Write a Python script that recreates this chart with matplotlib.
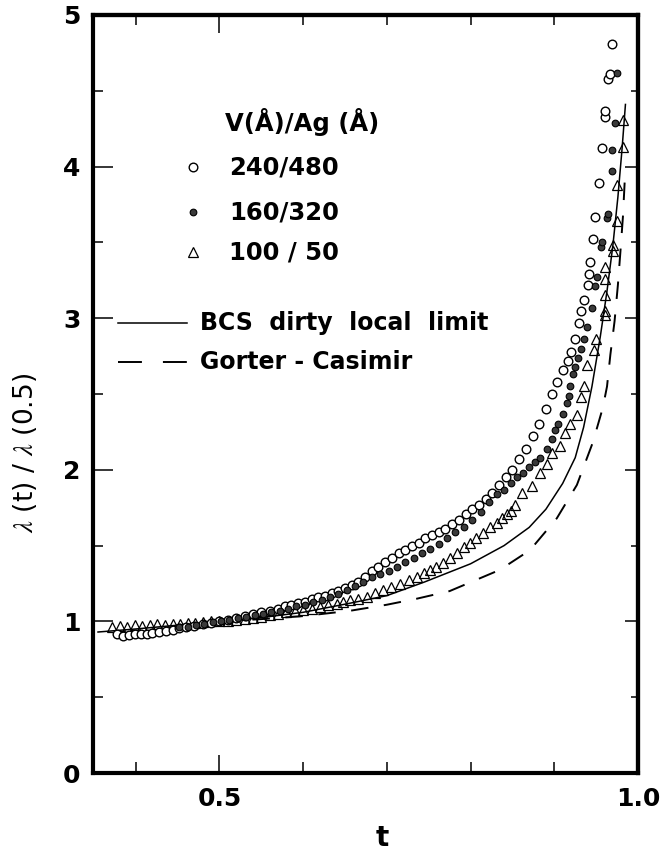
import matplotlib
matplotlib.use("Agg")
import matplotlib.pyplot as plt
from matplotlib.ticker import FixedLocator, NullFormatter

plt.rcParams['font.family'] = ['DejaVu Sans']
plt.rcParams['mathtext.fontset'] = 'stix'

# --- measured data: reduced penetration depth lambda(t)/lambda(0.5) ---
t_240 = [0.378, 0.385, 0.392, 0.399, 0.406, 0.413, 0.420, 0.428, 0.436, 0.444,
         0.452, 0.460, 0.470, 0.480, 0.490, 0.500, 0.510, 0.520, 0.530, 0.540,
         0.550, 0.560, 0.570, 0.578, 0.586, 0.594, 0.602, 0.610, 0.618, 0.626,
         0.634, 0.642, 0.650, 0.658, 0.666, 0.674, 0.682, 0.690, 0.698, 0.706,
         0.714, 0.722, 0.730, 0.738, 0.746, 0.754, 0.762, 0.770, 0.778, 0.786,
         0.794, 0.802, 0.810, 0.818, 0.826, 0.834, 0.842, 0.850, 0.858, 0.866,
         0.874, 0.882, 0.890, 0.897, 0.903, 0.910, 0.916, 0.920, 0.925, 0.930,
         0.932, 0.935, 0.940, 0.941, 0.943, 0.946, 0.949, 0.953, 0.957, 0.960,
         0.961, 0.964, 0.966, 0.969]
v_240 = [0.915, 0.905, 0.910, 0.915, 0.915, 0.920, 0.925, 0.930, 0.935, 0.945,
         0.955, 0.960, 0.970, 0.980, 0.990, 1.000, 1.010, 1.025, 1.035, 1.050,
         1.060, 1.070, 1.085, 1.100, 1.110, 1.120, 1.130, 1.145, 1.160, 1.170,
         1.185, 1.200, 1.220, 1.240, 1.260, 1.290, 1.330, 1.360, 1.390, 1.420,
         1.450, 1.470, 1.500, 1.520, 1.550, 1.570, 1.590, 1.610, 1.640, 1.670,
         1.710, 1.740, 1.770, 1.810, 1.850, 1.900, 1.950, 2.000, 2.070, 2.140,
         2.220, 2.300, 2.400, 2.500, 2.580, 2.660, 2.720, 2.780, 2.860, 2.970,
         3.050, 3.120, 3.220, 3.290, 3.370, 3.520, 3.670, 3.890, 4.120, 4.330,
         4.370, 4.580, 4.610, 4.810]

t_160 = [0.452, 0.462, 0.472, 0.482, 0.492, 0.502, 0.512, 0.522, 0.532, 0.542,
         0.552, 0.562, 0.572, 0.582, 0.592, 0.602, 0.612, 0.622, 0.632, 0.642,
         0.652, 0.662, 0.672, 0.682, 0.692, 0.702, 0.712, 0.722, 0.732, 0.742,
         0.752, 0.762, 0.772, 0.782, 0.792, 0.802, 0.812, 0.822, 0.832, 0.840,
         0.848, 0.856, 0.863, 0.870, 0.877, 0.883, 0.891, 0.897, 0.901, 0.905,
         0.910, 0.915, 0.918, 0.919, 0.922, 0.925, 0.928, 0.932, 0.935, 0.939,
         0.945, 0.949, 0.951, 0.956, 0.957, 0.963, 0.964, 0.969, 0.969, 0.972,
         0.975]
v_160 = [0.960, 0.965, 0.975, 0.985, 0.995, 1.000, 1.010, 1.020, 1.030, 1.040,
         1.050, 1.060, 1.070, 1.085, 1.100, 1.110, 1.125, 1.140, 1.160, 1.180,
         1.210, 1.235, 1.260, 1.290, 1.310, 1.335, 1.360, 1.390, 1.420, 1.450,
         1.480, 1.510, 1.550, 1.590, 1.620, 1.670, 1.720, 1.790, 1.840, 1.870,
         1.910, 1.950, 1.980, 2.020, 2.050, 2.080, 2.140, 2.200, 2.260, 2.300,
         2.370, 2.440, 2.490, 2.550, 2.630, 2.680, 2.740, 2.800, 2.860, 2.940,
         3.070, 3.210, 3.270, 3.470, 3.500, 3.660, 3.690, 3.970, 4.110, 4.290,
         4.620]

t_100 = [0.372, 0.381, 0.390, 0.399, 0.408, 0.417, 0.426, 0.435, 0.444, 0.453,
         0.462, 0.471, 0.480, 0.490, 0.500, 0.510, 0.520, 0.530, 0.540, 0.550,
         0.560, 0.570, 0.580, 0.590, 0.600, 0.610, 0.620, 0.630, 0.640, 0.648,
         0.656, 0.666, 0.676, 0.686, 0.695, 0.705, 0.716, 0.726, 0.736, 0.744,
         0.751, 0.759, 0.767, 0.775, 0.784, 0.792, 0.799, 0.807, 0.815, 0.823,
         0.831, 0.837, 0.843, 0.848, 0.853, 0.862, 0.873, 0.883, 0.891, 0.897,
         0.907, 0.913, 0.919, 0.927, 0.932, 0.935, 0.939, 0.947, 0.950, 0.961,
         0.961, 0.961, 0.961, 0.961, 0.970, 0.970, 0.975, 0.975, 0.982, 0.982]
v_100 = [0.960, 0.970, 0.965, 0.975, 0.970, 0.975, 0.980, 0.975, 0.985, 0.980,
         0.990, 0.990, 0.995, 1.000, 1.000, 1.005, 1.010, 1.015, 1.020, 1.030,
         1.040, 1.050, 1.060, 1.070, 1.075, 1.085, 1.095, 1.105, 1.115, 1.130,
         1.140, 1.150, 1.160, 1.190, 1.210, 1.230, 1.250, 1.270, 1.290, 1.320,
         1.340, 1.360, 1.385, 1.420, 1.450, 1.490, 1.520, 1.550, 1.580, 1.620,
         1.650, 1.680, 1.710, 1.730, 1.770, 1.850, 1.890, 1.980, 2.040, 2.110,
         2.160, 2.240, 2.300, 2.360, 2.480, 2.550, 2.690, 2.790, 2.860, 3.020,
         3.050, 3.150, 3.260, 3.340, 3.440, 3.480, 3.640, 3.880, 4.130, 4.310]

# --- theory curves ---
t_bcs = [0.355, 0.400, 0.450, 0.500, 0.550, 0.600, 0.656, 0.700, 0.745, 0.800,
         0.840, 0.870, 0.890, 0.910, 0.925, 0.935, 0.945, 0.955, 0.963, 0.970,
         0.976, 0.981, 0.985]
v_bcs = [0.930, 0.950, 0.975, 1.000, 1.025, 1.060, 1.120, 1.170, 1.260, 1.380,
         1.500, 1.620, 1.740, 1.910, 2.080, 2.280, 2.550, 2.880, 3.180, 3.480,
         3.800, 4.120, 4.410]

t_gc = [0.500, 0.550, 0.600, 0.656, 0.700, 0.736, 0.775, 0.835, 0.871, 0.903,
        0.927, 0.946, 0.958, 0.963, 0.967, 0.972, 0.976, 0.979, 0.982, 0.984,
        0.985]
v_gc = [1.000, 1.015, 1.035, 1.070, 1.110, 1.150, 1.200, 1.340, 1.470, 1.680,
        1.900, 2.180, 2.410, 2.550, 2.760, 2.980, 3.220, 3.440, 3.670, 3.890,
        3.960]

series_labels = ["240/480", "160/320", "100 / 50"]
legend_title = "V(Å)/Ag (Å)"
curve_labels = ["BCS  dirty  local  limit", "Gorter - Casimir"]

fig = plt.figure(figsize=(6.63, 8.55), dpi=100)
ax = fig.add_axes([93 / 663, 82 / 855, 545 / 663, 758 / 855])

open_circle = dict(marker='o', ms=6.2, mfc='white', mec='black', mew=1.0, ls='none')
dot = dict(marker='o', ms=4.8, mfc='#3a3a3a', mec='black', mew=0.8, ls='none')
open_tri = dict(marker='^', ms=7.0, mfc='none', mec='black', mew=0.9, ls='none')

ax.plot(t_bcs, v_bcs, color='black', lw=1.1, zorder=2)
ax.plot(t_gc, v_gc, color='black', lw=1.4, dashes=(9, 8), zorder=2)
ax.plot(t_100, v_100, zorder=3, **open_tri)
ax.plot(t_160, v_160, zorder=4, **dot)
ax.plot(t_240, v_240, zorder=3, **open_circle)

ax.set_xlim(0.349, 1.0)
ax.set_ylim(0, 5)

for s in ax.spines.values():
    s.set_linewidth(3.0)

ax.xaxis.set_major_locator(FixedLocator([0.5, 1.0]))
ax.xaxis.set_minor_locator(FixedLocator([0.4, 0.6, 0.7, 0.8, 0.9]))
ax.yaxis.set_major_locator(FixedLocator([0, 1, 2, 3, 4, 5]))
ax.yaxis.set_minor_locator(FixedLocator([0.5, 1.5, 2.5, 3.5, 4.5]))
ax.set_xticklabels(["0.5", "1.0"])
ax.set_yticklabels(["0", "1", "2", "3", "4", "5"])
ax.tick_params(axis='x', which='major', direction='in', length=13, width=1.1,
               pad=10, labelsize=18)
ax.tick_params(axis='x', which='minor', direction='in', length=8, width=1.1)
ax.tick_params(axis='y', which='major', direction='in', length=14.5, width=1.1,
               pad=9, labelsize=18)
ax.tick_params(axis='y', which='minor', direction='in', length=7, width=1.1)
for lab in ax.get_xticklabels() + ax.get_yticklabels():
    lab.set_fontweight('bold')

# right and top ticks
axr = ax.secondary_yaxis('right')
axr.yaxis.set_major_locator(FixedLocator([1, 2, 3, 4]))
axr.yaxis.set_minor_locator(FixedLocator([0.5, 1.5, 2.5, 3.5, 4.5]))
axr.yaxis.set_major_formatter(NullFormatter())
axr.tick_params(which='major', direction='in', length=9.5, width=1.1)
axr.tick_params(which='minor', direction='in', length=5, width=1.1)
axr.spines['right'].set_linewidth(3.0)

axt = ax.secondary_xaxis('top')
axt.xaxis.set_major_locator(FixedLocator([0.5]))
axt.xaxis.set_minor_locator(FixedLocator([0.4, 0.6, 0.7, 0.8, 0.9]))
axt.xaxis.set_major_formatter(NullFormatter())
axt.tick_params(which='major', direction='in', length=13, width=1.1)
axt.tick_params(which='minor', direction='in', length=7, width=1.1)
axt.spines['top'].set_linewidth(3.0)

# legend block
tr = ax.transAxes
ax.text(0.242, 0.859, legend_title, transform=tr, fontsize=17.5, fontweight='bold',
        va='center', ha='left')
marker_x = 0.183
text_x = 0.250
rows_y = [0.799, 0.740, 0.687]
styles = [open_circle, dot, open_tri]
for y, st, lab in zip(rows_y, styles, series_labels):
    ax.plot([marker_x], [y], transform=tr, clip_on=False, **st)
    ax.text(text_x, y, lab, transform=tr, fontsize=17.5, fontweight='bold',
            va='center', ha='left')

ax.plot([0.046, 0.172], [0.594, 0.594], transform=tr, color='black', lw=1.1)
ax.text(0.196, 0.594, curve_labels[0], transform=tr, fontsize=17, fontweight='bold',
        va='center', ha='left')
ax.plot([0.046, 0.172], [0.542, 0.542], transform=tr, color='black', lw=1.4,
        dashes=(12.3, 10.8))
ax.text(0.196, 0.542, curve_labels[1], transform=tr, fontsize=17, fontweight='bold',
        va='center', ha='left')

fig.text(25 / 663, 1 - 453 / 855, r"$\lambda$ (t) / $\lambda$ (0.5)", rotation=90,
         fontsize=19, ha='center', va='center')
fig.text(382 / 663, 1 - 838 / 855, "t", fontsize=20, fontweight='bold',
         ha='center', va='center')

fig.savefig("out.png", dpi=100, facecolor='white')
